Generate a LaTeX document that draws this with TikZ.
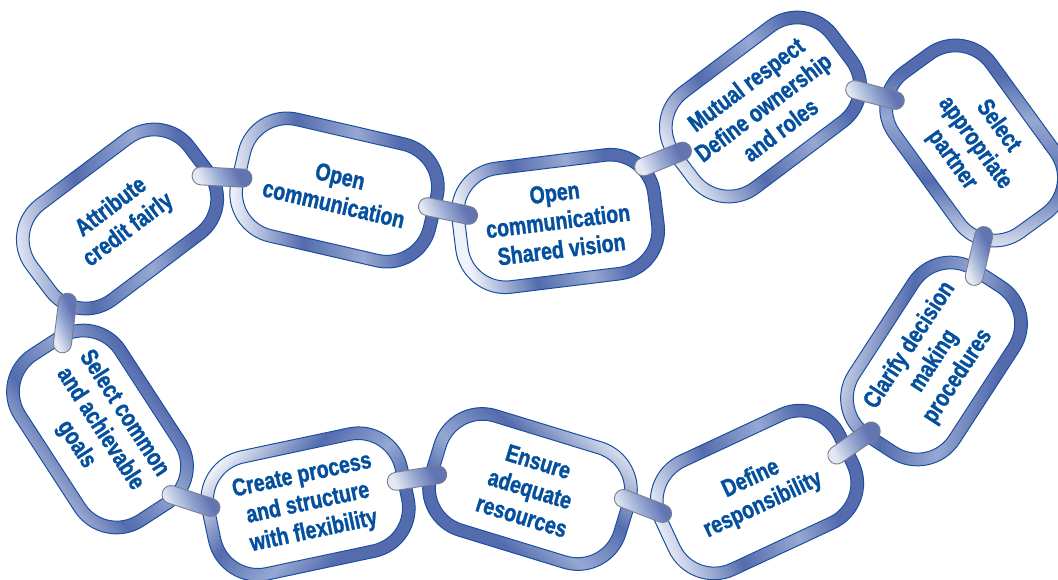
\documentclass[tikz,border=0pt]{standalone}
\usepackage{fontspec}
\setmainfont{Liberation Sans}[FakeStretch=0.8, BoldFeatures={FakeBold=1.2}]
\usetikzlibrary{shapes.misc}
\definecolor{ringblue}{RGB}{84,108,174}
\definecolor{ringlight}{RGB}{238,242,249}
\definecolor{ringmid}{RGB}{150,168,210}
\definecolor{edgeblue}{RGB}{28,78,158}
\definecolor{txtblue}{RGB}{4,80,158}
\definecolor{cyllight}{RGB}{228,232,242}
\definecolor{cylblue}{RGB}{98,116,178}
\definecolor{cyledge}{RGB}{118,126,146}
\pgfdeclarehorizontalshading{ringshade}{100bp}{color(0bp)=(ringlight); color(27bp)=(ringlight); color(42bp)=(ringblue); color(55bp)=(ringmid); color(64bp)=(ringblue); color(100bp)=(ringblue)}
\pgfdeclarehorizontalshading{cylshade}{100bp}{color(0bp)=(cyllight); color(28bp)=(cyllight); color(48bp)=(ringmid); color(66bp)=(cylblue); color(100bp)=(cylblue)}
\tikzset{
  ring/.style={rectangle, rounded corners=50pt, minimum width=210pt, minimum height=132pt,
    inner sep=0pt, draw=edgeblue, line width=1pt, shade, shading=ringshade},
  hole/.style={rectangle, rounded corners=38pt, minimum width=185pt, minimum height=107pt,
    inner sep=0pt, fill=white, draw=edgeblue, line width=1pt, text=txtblue, align=center,
    font=\bfseries\fontsize{24.5}{28.5}\selectfont},
  cyl/.style={rounded rectangle, minimum width=60pt, minimum height=18pt, inner sep=0pt,
    draw=cyledge, line width=0.9pt, shade, shading=cylshade, shading angle=25}
}
\begin{document}
\begin{tikzpicture}[x=1pt,y=-1pt]
\useasboundingbox (0,0) rectangle (1058,579);
% links: outer rings
\node[ring, rotate=37, shading angle=8]    (r1)  at (120,219) {};
\node[ring, rotate=-13, shading angle=3]   (r2)  at (337,190) {};
\node[ring, rotate=7, shading angle=13]    (r3)  at (558,221) {};
\node[ring, rotate=37, shading angle=33]   (r4)  at (763,107) {};
\node[ring, rotate=-54, shading angle=89]  (r5)  at (975,143) {};
\node[ring, rotate=57, shading angle=-12]  (r6)  at (934,361) {};
\node[ring, rotate=25, shading angle=20]   (r7)  at (757,492) {};
\node[ring, rotate=-17, shading angle=-133] (r8) at (530,489) {};
\node[ring, rotate=12, shading angle=-42]  (r9)  at (308,504) {};
\node[ring, rotate=-57, shading angle=37]  (r10) at (100,429) {};
% inner holes with texts
\node[hole, rotate=37]  (l1)  at (r1)  {Attribute\\credit fairly};
\node[hole, rotate=-13] (l2)  at (r2)  {Open\\communication};
\node[hole, rotate=7]   (l3)  at (r3)  {Open\\communication\\Shared vision};
\node[hole, rotate=37]  (l4)  at (r4)  {Mutual respect\\Define ownership\\and roles};
\node[hole, rotate=-54] (l5)  at (r5)  {Select\\appropriate\\partner};
\node[hole, rotate=57]  (l6)  at (r6)  {Clarify decision\\making\\procedures};
\node[hole, rotate=25]  (l7)  at (r7)  {Define\\responsibility};
\node[hole, rotate=-17] (l8)  at (r8)  {Ensure\\adequate\\resources};
\node[hole, rotate=12]  (l9)  at (r9)  {Create process\\and structure\\with flexibility};
\node[hole, rotate=-57] (l10) at (r10) {Select common\\and achievable\\goals};
% connecting pins
\node[cyl, rotate=-3]  (c12)  at (222,177) {};
\node[cyl, rotate=-12] (c23)  at (448,211) {};
\node[cyl, rotate=22]  (c34)  at (663,159) {};
\node[cyl, rotate=-15] (c45)  at (875,95)  {};
\node[cyl, rotate=77]  (c56)  at (979,256) {};
\node[cyl, rotate=35]  (c67)  at (854,443) {};
\node[cyl, rotate=-21] (c78)  at (643,506) {};
\node[cyl, rotate=9]   (c89)  at (417,478) {};
\node[cyl, rotate=-18] (c910) at (191,501) {};
\node[cyl, rotate=83]  (c101) at (65,323)  {};
\end{tikzpicture}
\end{document}
